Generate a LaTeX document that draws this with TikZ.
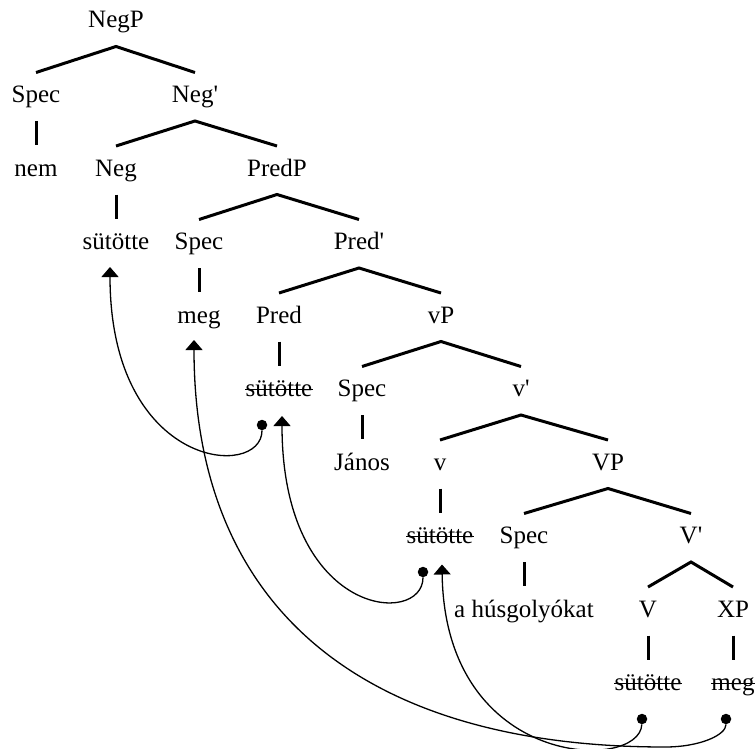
\documentclass[tikz,border=0pt]{standalone}
\usepackage{fontspec}
\setmainfont{Liberation Serif}
\usetikzlibrary{calc,arrows.meta}
% binary branching: parent, left child, right child
\newcommand\treebranch[3]{\draw[branchline] ($(#2.base)+(0,-30)$) -- ($(#1.base)+(0,18.5)$) -- ($(#3.base)+(0,-30)$);}
% unary branching: parent, child
\newcommand\treebar[2]{\draw[branchline] ($(#1.base)+(0,18.5)$) -- ($(#2.base)+(0,-31)$);}
% line through a trace
\newcommand\strikenode[1]{\draw[strike] ($(#1.base west)+(0,-7)$) -- ($(#1.base east)+(0,-7)$);}
\begin{document}
\begin{tikzpicture}[x=1pt,y=-1pt,
  lbl/.style={inner sep=0pt,anchor=base,font=\fontsize{25}{30}\selectfont},
  branchline/.style={line width=3pt},
  strike/.style={line width=1.7pt},
  dotnode/.style={circle,fill,inner sep=0pt,minimum size=10.5pt},
  mvline/.style={line width=1.3pt,-{Triangle[width=17pt,length=10pt]}}]
\useasboundingbox (0,0) rectangle (755,749);

% labels, one row per level
\node[lbl] (negp)    at (116,28)    {NegP};
\node[lbl] (spec1)   at (36,102.5)  {Spec};
\node[lbl] (negbar)  at (195,102.5) {Neg\textquotesingle};
\node[lbl] (nem)     at (36,176)    {nem};
\node[lbl] (neg)     at (116,176)   {Neg};
\node[lbl] (predp)   at (277,176)   {PredP};
\node[lbl] (sut1)    at (116,249.5) {sütötte};
\node[lbl] (spec2)   at (199,249.5) {Spec};
\node[lbl] (predbar) at (359,249.5) {Pred\textquotesingle};
\node[lbl] (meg1)    at (199,323)   {meg};
\node[lbl] (pred)    at (279,323)   {Pred};
\node[lbl] (lvp)     at (441,323)   {vP};
\node[lbl] (sut2)    at (279,396.5) {sütötte};
\node[lbl] (spec3)   at (362,396.5) {Spec};
\node[lbl] (lvbar)   at (521,396.5) {v\textquotesingle};
\node[lbl] (janos)   at (362,470)   {János};
\node[lbl] (lv)      at (440,470)   {v};
\node[lbl] (uvp)     at (608,470)   {VP};
\node[lbl] (sut3)    at (440,543.5) {sütötte};
\node[lbl] (spec4)   at (524,543.5) {Spec};
\node[lbl] (uvbar)   at (691,543.5) {V\textquotesingle};
\node[lbl] (obj)     at (524,617)   {a húsgolyókat};
\node[lbl] (uv)      at (648,617)   {V};
\node[lbl] (xp)      at (733,617)   {XP};
\node[lbl] (sut4)    at (648,690.5) {sütötte};
\node[lbl] (meg2)    at (733,690.5) {meg};

% tree branches
\treebranch{negp}{spec1}{negbar}
\treebar{spec1}{nem}
\treebranch{negbar}{neg}{predp}
\treebar{neg}{sut1}
\treebranch{predp}{spec2}{predbar}
\treebar{spec2}{meg1}
\treebranch{predbar}{pred}{lvp}
\treebar{pred}{sut2}
\treebranch{lvp}{spec3}{lvbar}
\treebar{spec3}{janos}
\treebranch{lvbar}{lv}{uvp}
\treebar{lv}{sut3}
\treebranch{uvp}{spec4}{uvbar}
\treebar{spec4}{obj}
\treebranch{uvbar}{uv}{xp}
\treebar{uv}{sut4}
\treebar{xp}{meg2}

% traces
\strikenode{sut2}
\strikenode{sut3}
\strikenode{sut4}
\strikenode{meg2}

% movement: dots at the traces, arrowheads under the landing sites
\node[dotnode] (d1) at ($(sut2.base)+(-17,28.5)$) {};
\node[dotnode] (d2) at ($(meg2.base)+(-7,28.5)$) {};
\node[dotnode] (d3) at ($(sut3.base)+(-17,28.5)$) {};
\node[dotnode] (d4) at ($(sut4.base)+(-6,28.5)$) {};
\coordinate (t1) at ($(sut1.base)+(-6,17.5)$);
\coordinate (t2) at ($(meg1.base)+(-5,17)$);
\coordinate (t3) at ($(sut2.base)+(3,19.5)$);
\coordinate (t4) at ($(sut3.base)+(2,21)$);
\coordinate (b2) at (665,747);

\draw[mvline] (d1) .. controls +(0,55) and +(0,203) .. (t1);
\draw[mvline] (d3) .. controls +(0,55) and +(0,202) .. (t3);
\draw[mvline] (d4) .. controls +(-2,53) and +(3,206) .. (t4);
\draw[mvline] (d2) .. controls +(0,16) and +(35,0) .. (b2)
                   .. controls +(-306,0) and +(0,265) .. (t2);
\end{tikzpicture}
\end{document}
